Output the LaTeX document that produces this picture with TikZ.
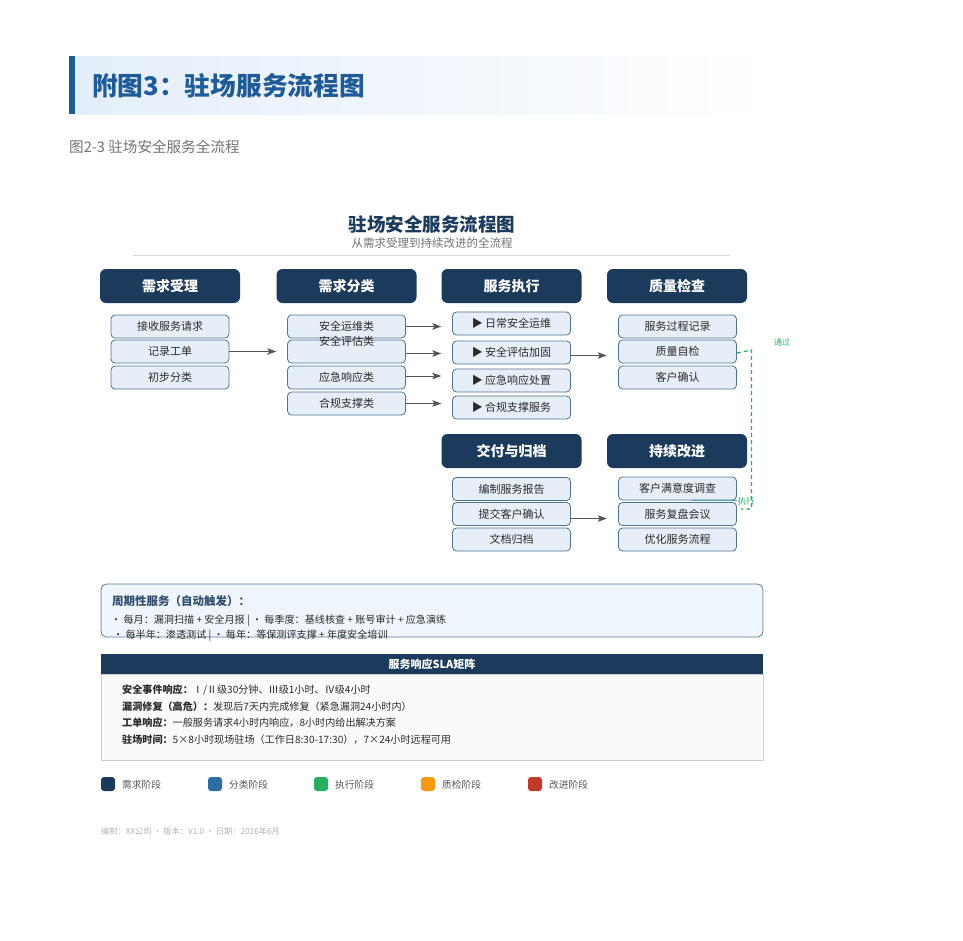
\documentclass[tikz,border=0pt]{standalone}
\usepackage{fontspec}
\setmainfont{Noto Sans CJK SC}
\usetikzlibrary{arrows.meta,shadings}
\definecolor{navy}{HTML}{1B3A5C}
\definecolor{boxfill}{HTML}{E6EEF8}
\definecolor{boxborder}{HTML}{4D7391}
\definecolor{darktext}{HTML}{2B2B2B}
\definecolor{titleblue}{HTML}{1F5B99}
\definecolor{bannerbg}{HTML}{E4EEFA}
\definecolor{arrowgray}{HTML}{555555}
\definecolor{okgreen}{HTML}{27AE60}
\definecolor{catblue}{HTML}{2E6DA4}
\definecolor{qorange}{HTML}{F39C12}
\definecolor{impred}{HTML}{C0392B}
\definecolor{perfill}{HTML}{EEF5FD}
\definecolor{perborder}{HTML}{5A7A95}
\definecolor{slabody}{HTML}{FAFAFA}
\definecolor{slaborder}{HTML}{CCCCCC}
\tikzset{
  phase/.style={fill=navy, rounded corners=6pt, minimum width=140pt, minimum height=34pt, inner sep=0pt,
    text=white, font=\bfseries\fontsize{14}{14}\selectfont},
  sub/.style={draw=boxborder, fill=boxfill, rounded corners=4pt, minimum width=118pt, minimum height=23pt,
    inner sep=0pt, line width=0.8pt, text=darktext, font=\fontsize{11}{11}\selectfont},
  arr/.style={-{Stealth[length=9pt,width=6.5pt,inset=2pt]}, draw=arrowgray, line width=1pt},
  smalltxt/.style={anchor=west, inner sep=0pt, text=darktext, font=\fontsize{10.1}{10.1}\selectfont},
  legsq/.style={rounded corners=3pt, minimum width=14pt, minimum height=14pt, inner sep=0pt},
  legtxt/.style={anchor=west, inner sep=0pt, text=darktext!80, font=\fontsize{9.7}{9.7}\selectfont},
}
\begin{document}
\begin{tikzpicture}[x=1pt,y=-1pt]
\useasboundingbox (0,0) rectangle (963,940);
\fill[white] (0,0) rectangle (963,940);
% banner
\shade[left color=bannerbg, right color=white] (75,56) rectangle (770,114);
\fill[titleblue] (69,56) rectangle (75,114);
\node[anchor=west, inner sep=0pt, text=titleblue, font=\bfseries\fontsize{25.7}{25.7}\selectfont] (bt) at (92,86) {附图3：驻场服务流程图};
\node[anchor=west, inner sep=0pt, text=black!55, font=\fontsize{14.6}{14.6}\selectfont] (cap) at (69,147) {图2-3 驻场安全服务全流程};
% chart title
\node[inner sep=0pt, text=navy, font=\bfseries\fontsize{18.5}{18.5}\selectfont] (ct) at (432,224) {驻场安全服务流程图};
\node[inner sep=0pt, text=black!55, font=\fontsize{11.5}{11.5}\selectfont] (cs) at (432,243) {从需求受理到持续改进的全流程};
\draw[black!15, line width=0.8pt] (133,255) coordinate (sl) -- (730,255) coordinate (sr);
% phase headers
\node[phase] (h1) at (170,286) {需求受理};
\node[phase] (h2) at (346.5,286) {需求分类};
\node[phase] (h3) at (511.5,286) {服务执行};
\node[phase] (h4) at (677,286) {质量检查};
\node[phase] (h5) at (511.5,451) {交付与归档};
\node[phase] (h6) at (677,451) {持续改进};
% column 1
\node[sub] (a1) at (170,326.5) {接收服务请求};
\node[sub] (a2) at (170,351.5) {记录工单};
\node[sub] (a3) at (170,377.5) {初步分类};
% column 2
\node[sub] (b1) at (346.5,326.5) {安全运维类};
\node[sub] (b2) at (346.5,351.5) {};
\node[inner sep=0pt, text=darktext, font=\fontsize{11}{11}\selectfont] (b2t) at (346.5,341) {安全评估类};
\node[sub] (b3) at (346.5,377.5) {应急响应类};
\node[sub] (b4) at (346.5,403.5) {合规支撑类};
% column 3
\node[sub] (c1) at (511.5,323.5) {▶ 日常安全运维};
\node[sub] (c2) at (511.5,352.5) {▶ 安全评估加固};
\node[sub] (c3) at (511.5,380.5) {▶ 应急响应处置};
\node[sub] (c4) at (511.5,407.5) {▶ 合规支撑服务};
% column 4
\node[sub] (d1) at (677.5,326.5) {服务过程记录};
\node[sub] (d2) at (677.5,351.5) {质量自检};
\node[sub] (d3) at (677.5,377.5) {客户确认};
% column 5
\node[sub] (e1) at (511.5,489) {编制服务报告};
\node[sub] (e2) at (511.5,514) {提交客户确认};
\node[sub] (e3) at (511.5,539.5) {文档归档};
% column 6
\node[sub] (f1) at (677.5,488.5) {客户满意度调查};
\node[sub] (f2) at (677.5,514) {服务复盘会议};
\node[sub] (f3) at (677.5,539.5) {优化服务流程};
% arrows
\draw[arr] (a2.east) -- (a2.east -| h2.west);
\draw[arr] (b1.east) -- (b1.east -| h3.west);
\draw[arr] ([yshift=-2pt]b2.east) -- ([yshift=-2pt]b2.east -| h3.west);
\draw[arr] ([yshift=1.5pt]b3.east) -- ([yshift=1.5pt]b3.east -| h3.west);
\draw[arr] (b4.east) -- (b4.east -| h3.west);
\draw[arr] ([yshift=-3pt]c2.east) -- ([yshift=-3pt]c2.east -| h4.west);
\draw[arr] ([yshift=-4.5pt]e2.east) -- ([yshift=-4.5pt]e2.east -| h6.west);
% feedback dashed
\coordinate (q1) at (751.5,350);
\coordinate (q2) at (751.5,509);
\coordinate (q3) at (741,509);
\draw[okgreen, dash pattern=on 4pt off 3pt, line width=1.3pt] ([yshift=-1.5pt]d2.east) -- (q1) -- (q2) -- (q3);
\draw[teal!70, line width=1.2pt] ([xshift=-45pt]f1.south east) coordinate (t1) -- ([yshift=0pt]f1.south east);
\node[inner sep=0pt, text=okgreen, font=\fontsize{8}{8}\selectfont] (lbl1) at (782,342) {通过};
\node[inner sep=0pt, text=okgreen, font=\fontsize{8.5}{8.5}\selectfont] (lbl2) at (746,501) {执行};
% periodic box
\node[draw=perborder, fill=perfill, rounded corners=6pt, line width=0.8pt, minimum width=662pt, minimum height=53pt, inner sep=0pt] (per) at (432,610.5) {};
\node[anchor=west, inner sep=0pt, text=navy!90, font=\bfseries\fontsize{11.5}{11.5}\selectfont] (pt) at (112,601) {周期性服务（自动触发）：};
\node[smalltxt] (p1) at (111,621) {· 每月：漏洞扫描 + 安全月报 | · 每季度：基线核查 + 账号审计 + 应急演练};
\node[smalltxt] (p2) at (113,636) {· 每半年：渗透测试 | · 每年：等保测评支撑 + 年度安全培训};
% SLA
\node[draw=slaborder, fill=slabody, line width=0.6pt, minimum width=662pt, minimum height=86pt, inner sep=0pt] (slab) at (432,717) {};
\node[fill=navy, minimum width=662pt, minimum height=20pt, inner sep=0pt, text=white, font=\bfseries\fontsize{11}{11}\selectfont] (slah) at (432,664) {服务响应SLA矩阵};
\node[smalltxt] (s1) at (122,690) {\textbf{安全事件响应：}Ⅰ/Ⅱ级30分钟、Ⅲ级1小时、Ⅳ级4小时};
\node[smalltxt] (s2) at (122,706.5) {\textbf{漏洞修复（高危）：}发现后7天内完成修复（紧急漏洞24小时内）};
\node[smalltxt] (s3) at (122,723) {\textbf{工单响应：}一般服务请求4小时内响应，8小时内给出解决方案};
\node[smalltxt] (s4) at (122,740) {\textbf{驻场时间：}5×8小时现场驻场（工作日8:30-17:30），7×24小时远程可用};
% legend
\node[legsq, fill=navy] (l1) at (108,784) {};
\node[legtxt] (l1t) at (122,785) {需求阶段};
\node[legsq, fill=catblue] (l2) at (215,784) {};
\node[legtxt] (l2t) at (229,785) {分类阶段};
\node[legsq, fill=okgreen] (l3) at (321,784) {};
\node[legtxt] (l3t) at (335,785) {执行阶段};
\node[legsq, fill=qorange] (l4) at (428,784) {};
\node[legtxt] (l4t) at (442,785) {质检阶段};
\node[legsq, fill=impred] (l5) at (535,784) {};
\node[legtxt] (l5t) at (549,785) {改进阶段};
% footer
\node[anchor=west, inner sep=0pt, text=black!30, font=\fontsize{8.2}{8.2}\selectfont] (ft) at (101,831) {编制：XX公司 · 版本：V1.0 · 日期：2026年6月};
\end{tikzpicture}
\end{document}
